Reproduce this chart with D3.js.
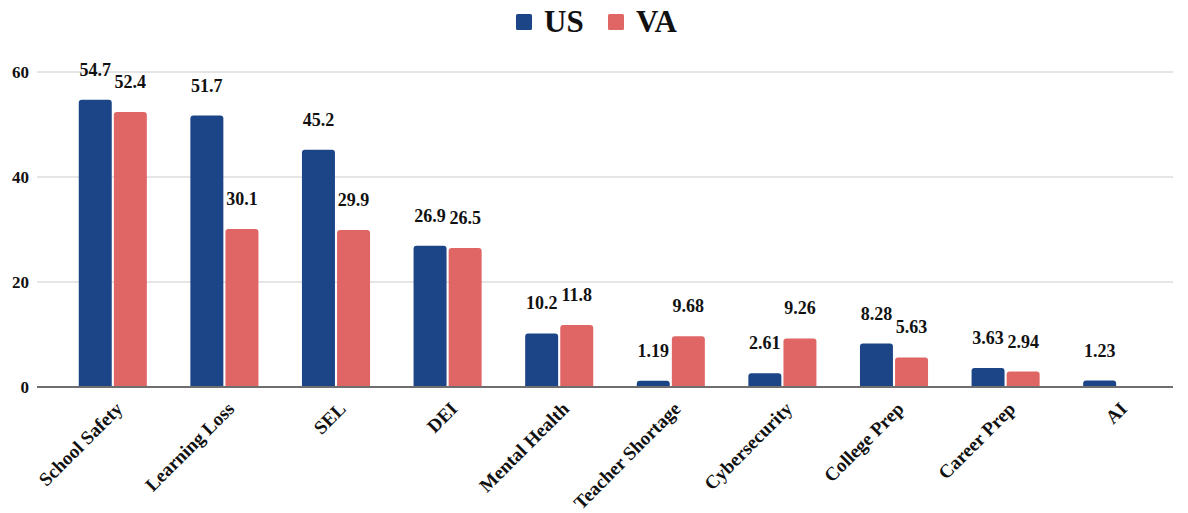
<!DOCTYPE html>
<html>
<head>
<meta charset="utf-8">
<script src="https://cdn.jsdelivr.net/npm/d3@7"></script>
<style>
  body { margin: 0; background: #fff; }
  svg text { font-family: "Liberation Serif", "DejaVu Serif", serif; font-weight: bold; fill: #111; }
</style>
</head>
<body>
<div id="chart"></div>
<script>
// chart data
const categories = ['School Safety', 'Learning Loss', 'SEL', 'DEI', 'Mental Health',
    'Teacher Shortage', 'Cybersecurity', 'College Prep', 'Career Prep', 'AI'];
const usValues = [54.7, 51.7, 45.2, 26.9, 10.2, 1.19, 2.61, 8.28, 3.63, 1.23];
const vaValues = [52.4, 30.1, 29.9, 26.5, 11.8, 9.68, 9.26, 5.63, 2.94, null];
const seriesNames = ['US', 'VA'];
const yTicks = [0, 20, 40, 60];

const colors = { US: '#1c4587', VA: '#e06666' };

const width = 1188;
const height = 513;
const plot = { left: 57, right: 1173, top: 72, bottom: 387 };

const svg = d3.select('#chart')
    .append('svg')
    .attr('width', width)
    .attr('height', height);

const x = d3.scaleBand()
    .domain(categories)
    .range([plot.left, plot.right])
    .paddingInner(0.39)
    .paddingOuter(0.195);

const xSub = d3.scaleBand()
    .domain(seriesNames)
    .range([0, x.bandwidth()])
    .paddingInner(0.06);

const y = d3.scaleLinear()
    .domain([0, 60])
    .range([plot.bottom, plot.top]);

// gridlines
svg.append('g')
    .selectAll('line')
    .data(yTicks.filter(t => t !== 0))
    .enter()
    .append('line')
    .attr('x1', 37)
    .attr('x2', plot.right)
    .attr('y1', d => y(d))
    .attr('y2', d => y(d))
    .style('stroke', '#cccccc')
    .style('stroke-width', 1);

// y axis labels
svg.append('g')
    .selectAll('text')
    .data(yTicks)
    .enter()
    .append('text')
    .attr('x', 29)
    .attr('y', d => y(d))
    .attr('dy', '0.35em')
    .attr('text-anchor', 'end')
    .style('font-size', '17px')
    .text(d => d);

// bars
const rows = categories.map((c, i) => ({
    category: c,
    values: [
        { series: 'US', value: usValues[i] },
        { series: 'VA', value: vaValues[i] }
    ].filter(v => v.value !== null)
}));

const groups = svg.append('g')
    .selectAll('g')
    .data(rows)
    .enter()
    .append('g')
    .attr('transform', d => `translate(${x(d.category)},0)`);

function barPath(x0, w, yTop, yBottom, r) {
    r = Math.min(r, (yBottom - yTop), w / 2);
    return `M${x0},${yBottom}V${yTop + r}Q${x0},${yTop} ${x0 + r},${yTop}` +
        `H${x0 + w - r}Q${x0 + w},${yTop} ${x0 + w},${yTop + r}V${yBottom}Z`;
}

groups.selectAll('path')
    .data(d => d.values)
    .enter()
    .append('path')
    .attr('d', d => barPath(xSub(d.series), xSub.bandwidth(), y(d.value), y(0), 3))
    .style('fill', d => colors[d.series]);

groups.selectAll('text')
    .data(d => d.values)
    .enter()
    .append('text')
    .attr('x', d => xSub(d.series) + xSub.bandwidth() / 2)
    .attr('y', d => y(d.value) - 24)
    .attr('text-anchor', 'middle')
    .style('font-size', '18px')
    .text(d => d.value);

// baseline
svg.append('line')
    .attr('x1', 37)
    .attr('x2', plot.right)
    .attr('y1', y(0))
    .attr('y2', y(0))
    .style('stroke', '#6e6e6e')
    .style('stroke-width', 2);

// category labels
svg.append('g')
    .selectAll('text')
    .data(categories)
    .enter()
    .append('text')
    .attr('transform', d => `translate(${x(d) + x.bandwidth() / 2 + 11},${plot.bottom + 23}) rotate(-45)`)
    .attr('text-anchor', 'end')
    .style('font-size', '19px')
    .text(d => d);

// legend
const legend = svg.append('g');
const legendItems = [
    { name: 'US', x: 516 },
    { name: 'VA', x: 608 }
];
legendItems.forEach(item => {
    legend.append('rect')
        .attr('x', item.x)
        .attr('y', 14)
        .attr('width', 16)
        .attr('height', 16)
        .attr('rx', 1.5)
        .style('fill', colors[item.name]);
    legend.append('text')
        .attr('x', item.x + 28)
        .attr('y', 32)
        .style('font-size', '31px')
        .text(item.name);
});
</script>
</body>
</html>
